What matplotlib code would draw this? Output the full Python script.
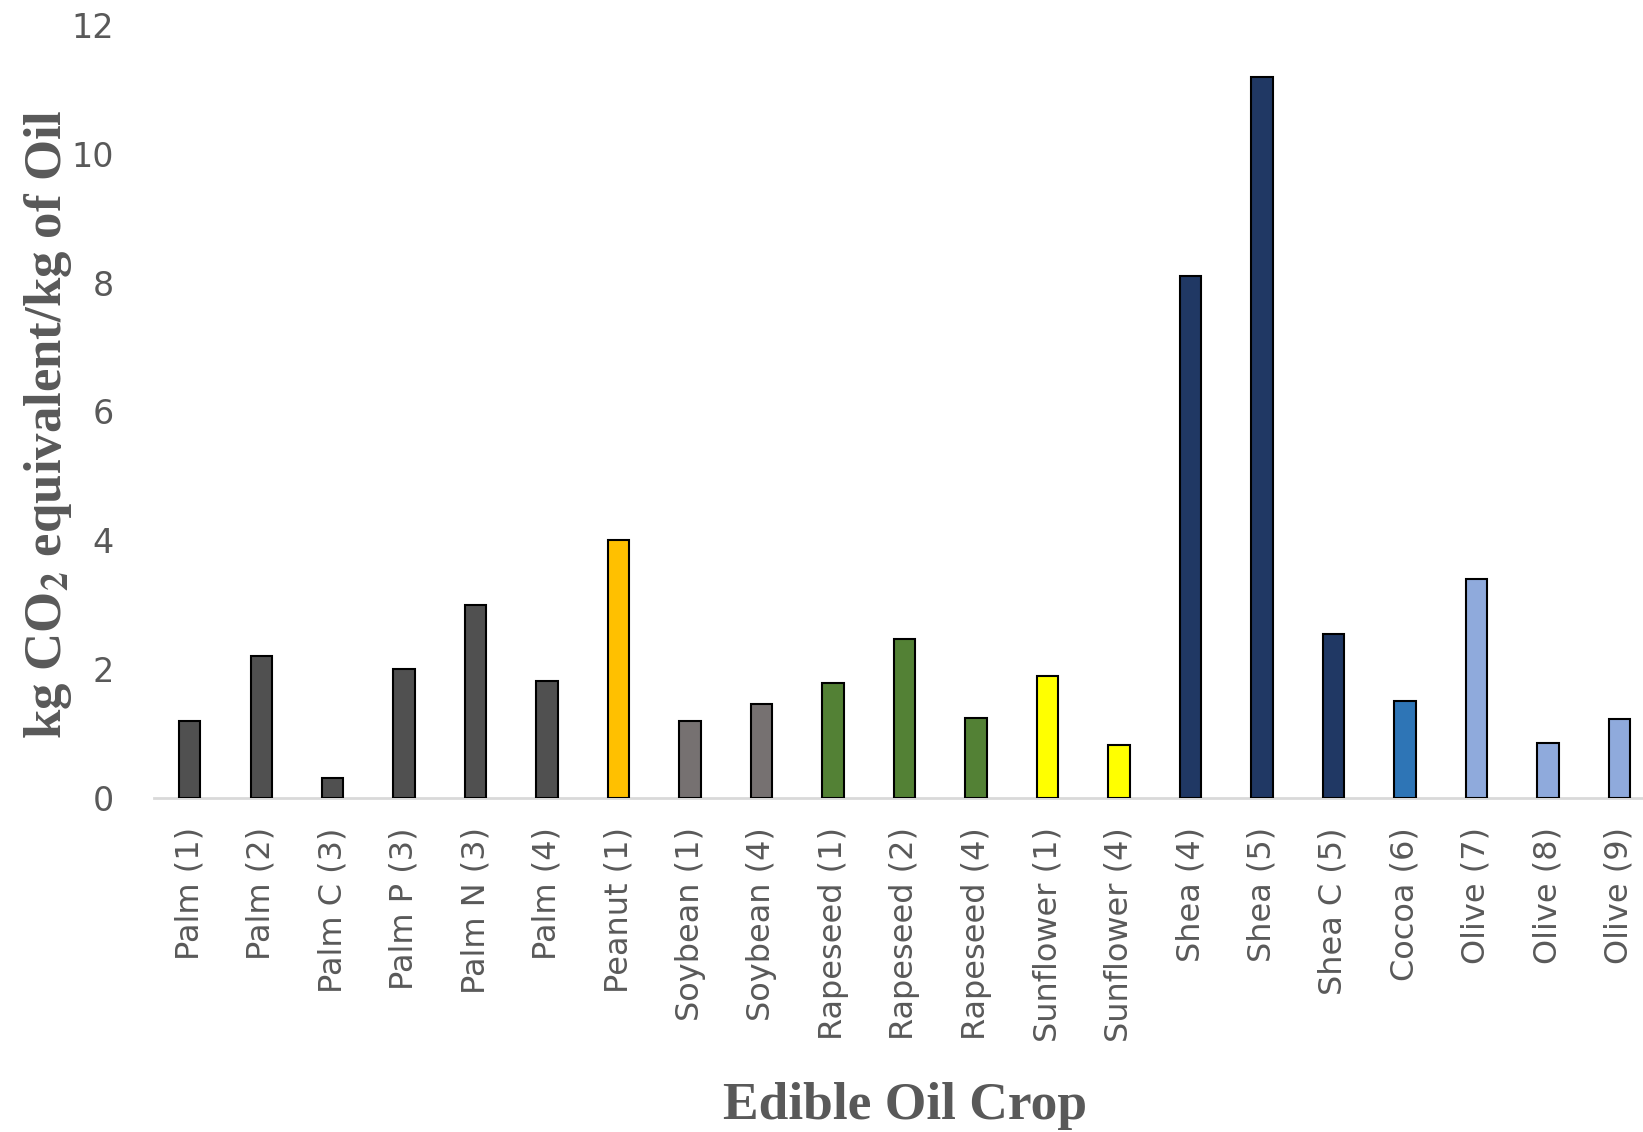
import numpy as np
from matplotlib import pyplot as plt

plt.rcParams['mathtext.fontset'] = 'stix'

crops = ['Palm (1)', 'Palm (2)', 'Palm C (3)', 'Palm P (3)', 'Palm N (3)', 'Palm (4)',
         'Peanut (1)', 'Soybean (1)', 'Soybean (4)', 'Rapeseed (1)', 'Rapeseed (2)',
         'Rapeseed (4)', 'Sunflower (1)', 'Sunflower (4)', 'Shea (4)', 'Shea (5)',
         'Shea C (5)', 'Cocoa (6)', 'Olive (7)', 'Olive (8)', 'Olive (9)']
co2 = [1.20, 2.21, 0.31, 2.00, 2.99, 1.82,
       4.00, 1.20, 1.46, 1.79, 2.47,
       1.24, 1.90, 0.83, 8.11, 11.19,
       2.54, 1.50, 3.40, 0.86, 1.22]
bar_colors = ['#505050'] * 6 + ['#FFC000'] + ['#767171'] * 2 + ['#538135'] * 3 + \
             ['#FFFF00'] * 2 + ['#203864'] * 3 + ['#2E75B6'] + ['#8FAADC'] * 3

grey = '#595959'

fig = plt.figure(figsize=(16.43, 11.32), dpi=100)
ax = fig.add_axes([154/1643, 1 - 798/1132, 1 - 154/1643, (798 - 25)/1132])

x = np.arange(len(crops))
ax.bar(x, co2, width=0.3, color=bar_colors, edgecolor='black', linewidth=1.5, zorder=3)

ax.set_xlim(-0.5, 20.33)
ax.set_ylim(0, 12)
ax.set_yticks(range(0, 13, 2))
ax.set_xticks(x)
ax.set_xticklabels(crops, rotation=90, va='top', ha='center')

for s in ['top', 'right', 'left']:
    ax.spines[s].set_visible(False)
ax.spines['bottom'].set_color('#d9d9d9')
ax.spines['bottom'].set_linewidth(2)

ax.tick_params(axis='both', length=0, colors=grey)
ax.tick_params(axis='y', labelsize=24, pad=29)
ax.tick_params(axis='x', labelsize=23, pad=21)

fig.text(48/1643, 1 - 424/1132, r'kg CO$_\mathbf{2}$ equivalent/kg of Oil', rotation=90,
         ha='center', va='center', fontsize=38, fontweight='bold',
         family='Liberation Serif', color=grey)
fig.text(905/1643, 1 - 1106/1132, 'Edible Oil Crop', ha='center', va='center',
         fontsize=38.5, fontweight='bold', family='Liberation Serif', color=grey)

plt.savefig('out.png', dpi=100)
